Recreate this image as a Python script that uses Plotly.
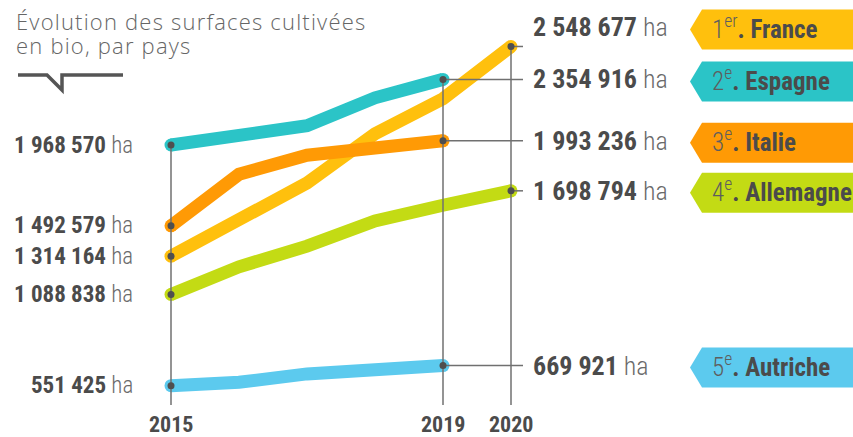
import plotly.graph_objects as go

# ---------------- data ----------------
years = [2015, 2016, 2017, 2018, 2019, 2020]
countries = ["France", "Espagne", "Italie", "Allemagne", "Autriche"]
ranks = ["1<sup>er</sup>", "2<sup>e</sup>", "3<sup>e</sup>", "4<sup>e</sup>", "5<sup>e</sup>"]
france = [1314164, 1538047, 1744420, 2035024, 2240797, 2548677]
espagne = [1968570, 2018802, 2082173, 2246475, 2354916]
italie = [1492579, 1796363, 1908570, 1958045, 1993236]
allemagne = [1088838, 1251320, 1373157, 1521314, 1613785, 1698794]
autriche = [551425, 571423, 620764, 637805, 669921]
values = {"France": france, "Espagne": espagne, "Italie": italie,
          "Allemagne": allemagne, "Autriche": autriche}
colors = {"France": "#FFC00D", "Espagne": "#2BC4C7", "Italie": "#FF9A05",
          "Allemagne": "#C3DB14", "Autriche": "#5CCAEE"}
draw_order = ["Espagne", "France", "Italie", "Allemagne", "Autriche"]
axis_years = [2015, 2019, 2020]
title_lines = ["Évolution des surfaces cultivées", "en bio, par pays"]

# ---------------- layout calibration ----------------
W, H = 853, 437
X0_PX, PX_PER_YEAR = 171, 68.0
Y_REF_PX, HA_PER_PX = 145, 5888.0
x_range = [2015 - X0_PX / PX_PER_YEAR, 2015 + (W - X0_PX) / PX_PER_YEAR]
y_range = [espagne[0] - (H - Y_REF_PX) * HA_PER_PX, espagne[0] + Y_REF_PX * HA_PER_PX]
guide_bottom = espagne[0] - (405 - Y_REF_PX) * HA_PER_PX
connector_end = 2020 + 12 / PX_PER_YEAR

FONT = "Roboto, sans-serif"
COND = "font-stretch:75%"
DARK = "#4B4B4B"
GRID = "#707070"
HA = "<span style='font-weight:300;color:#6A6A6A'>ha</span>"


def fmt(v):
    return f"{v:,}".replace(",", " ")


def num_label(v):
    return f"<span style='{COND}'><b>{fmt(v)}</b> {HA}</span>"


fig = go.Figure()

# coloured thick lines (round ends via end markers)
for c in draw_order:
    vals = values[c]
    xs = years[:len(vals)]
    fig.add_trace(go.Scatter(
        x=xs, y=vals, mode="lines",
        line=dict(color=colors[c], width=13),
        hoverinfo="skip", showlegend=False))
    fig.add_trace(go.Scatter(
        x=[xs[0], xs[-1]], y=[vals[0], vals[-1]], mode="markers",
        marker=dict(color=colors[c], size=13, line=dict(width=0)),
        hoverinfo="skip", showlegend=False))

# vertical guide lines
for yr in axis_years:
    idx = years.index(yr)
    tops = [values[c][idx] for c in countries if len(values[c]) > idx]
    fig.add_trace(go.Scatter(
        x=[yr, yr], y=[max(tops), guide_bottom], mode="lines",
        line=dict(color=GRID, width=1.5), hoverinfo="skip", showlegend=False))

# horizontal connectors to right labels
for c in countries:
    vals = values[c]
    fig.add_trace(go.Scatter(
        x=[years[len(vals) - 1], connector_end], y=[vals[-1], vals[-1]], mode="lines",
        line=dict(color=GRID, width=1.5), hoverinfo="skip", showlegend=False))

# dots at start / end
for c in countries:
    vals = values[c]
    fig.add_trace(go.Scatter(
        x=[years[0], years[len(vals) - 1]], y=[vals[0], vals[-1]], mode="markers",
        marker=dict(color="#4F4F4F", size=7), hoverinfo="skip", showlegend=False))

annotations = []
shapes = []

# left labels (2015)
for c in countries:
    v = values[c][0]
    annotations.append(dict(
        x=2015, y=v, xref="x", yref="y", xanchor="right", yanchor="middle",
        xshift=-36, showarrow=False, text=num_label(v),
        font=dict(family=FONT, size=23, color=DARK)))

# right labels + ribbons
label_shift = {"France": 19}
for i, c in enumerate(countries):
    v = values[c][-1]
    ys = label_shift.get(c, 0)
    annotations.append(dict(
        x=2020, y=v, xref="x", yref="y", xanchor="left", yanchor="middle",
        xshift=20, yshift=ys, showarrow=False, text=num_label(v),
        font=dict(family=FONT, size=26, color=DARK)))
    cy = ys - 2
    shapes.append(dict(
        type="path", xref="x", yref="y", xsizemode="pixel", ysizemode="pixel",
        xanchor=2020, yanchor=v,
        path=(f"M 179,{cy} L 191,{cy + 20} L 350,{cy + 20} "
              f"L 350,{cy - 20} L 191,{cy - 20} Z"),
        fillcolor=colors[c], line=dict(width=0), layer="below"))
    annotations.append(dict(
        x=2020, y=v, xref="x", yref="y", xanchor="left", yanchor="middle",
        xshift=199, yshift=ys, showarrow=False,
        text=(f"<span style='font-weight:300;{COND};color:#5E5E5E'>{ranks[i]}</span>"
              f"<span style='font-stretch:82%'><b>. {c}</b></span>"),
        font=dict(family=FONT, size=25, color=DARK)))

# year labels
for yr in axis_years:
    annotations.append(dict(
        x=yr, y=0, xref="x", yref="paper", xanchor="center", yanchor="middle",
        yshift=13, showarrow=False, text=f"<span style='{COND}'><b>{yr}</b></span>",
        font=dict(family=FONT, size=22, color=DARK)))

# title (two lines, tight leading)
for k, line in enumerate(title_lines):
    annotations.append(dict(
        x=14 / W, y=1 - (21 + 24 * k) / H, xref="paper", yref="paper",
        xanchor="left", yanchor="middle", align="left", showarrow=False,
        text=f"<span style='font-weight:300;font-stretch:100%;letter-spacing:1.2px'>{line}</span>",
        font=dict(family="Open Sans, sans-serif", size=22, color="#666666")))

# title decoration (speech tail)
shapes.append(dict(
    type="path", xref="paper", yref="paper",
    path=(f"M {18/W},{1-75/H} L {47/W},{1-75/H} L {62/W},{1-90/H} "
          f"L {62/W},{1-75/H} L {123/W},{1-75/H}"),
    line=dict(color="#555555", width=3.5), layer="above"))

fig.update_layout(
    width=W, height=H, margin=dict(l=0, r=0, t=0, b=0),
    paper_bgcolor="white", plot_bgcolor="white",
    xaxis=dict(range=x_range, visible=False, fixedrange=True),
    yaxis=dict(range=y_range, visible=False, fixedrange=True),
    annotations=annotations, shapes=shapes, showlegend=False)

fig.write_html("out.html", config={"displayModeBar": False},
               post_script="document.body.style.margin='0';")
